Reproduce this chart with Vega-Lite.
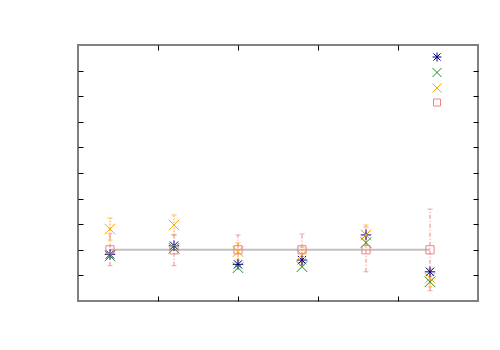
{
  "$schema": "https://vega.github.io/schema/vega-lite/v6.json",
  "width": 400,
  "height": 256,
  "autosize": {"type": "none"},
  "padding": {"left": 78, "top": 45, "right": 22, "bottom": 49},
  "background": "white",
  "config": {
    "view": {"stroke": "#808080", "strokeWidth": 2},
    "axis": {"labels": false, "grid": false, "domain": false, "tickSize": -5, "tickColor": "#000000", "tickWidth": 1, "title": null},
    "legend": {
      "orient": "none", "legendX": 354, "legendY": 7, "padding": 0,
      "labelFontSize": 10, "symbolSize": 81, "rowPadding": 1.5, "symbolStrokeWidth": 1
    }
  },
  "data": {
    "values": [
      {"series": "A", "x": 0.4, "y": 1.82},
      {"series": "B", "x": 0.4, "y": 1.76},
      {"series": "C", "x": 0.4, "y": 2.81, "lo": 2.38, "hi": 3.24},
      {"series": "D", "x": 0.4, "y": 2.0, "lo": 1.38, "hi": 2.62},
      {"series": "A", "x": 1.2, "y": 2.16},
      {"series": "B", "x": 1.2, "y": 2.06},
      {"series": "C", "x": 1.2, "y": 2.97, "lo": 2.58, "hi": 3.36},
      {"series": "D", "x": 1.2, "y": 2.0, "lo": 1.38, "hi": 2.58},
      {"series": "A", "x": 2.0, "y": 1.43},
      {"series": "B", "x": 2.0, "y": 1.3},
      {"series": "C", "x": 2.0, "y": 1.93, "lo": 1.6, "hi": 2.27},
      {"series": "D", "x": 2.0, "y": 2.0, "lo": 1.42, "hi": 2.58},
      {"series": "A", "x": 2.8, "y": 1.6},
      {"series": "B", "x": 2.8, "y": 1.34},
      {"series": "C", "x": 2.8, "y": 1.8, "lo": 1.5, "hi": 2.1},
      {"series": "D", "x": 2.8, "y": 2.0, "lo": 1.38, "hi": 2.62},
      {"series": "A", "x": 3.6, "y": 2.58},
      {"series": "B", "x": 3.6, "y": 2.28},
      {"series": "C", "x": 3.6, "y": 2.58, "lo": 2.19, "hi": 2.97},
      {"series": "D", "x": 3.6, "y": 2.0, "lo": 1.14, "hi": 2.89},
      {"series": "A", "x": 4.4, "y": 1.14},
      {"series": "B", "x": 4.4, "y": 0.75},
      {"series": "C", "x": 4.4, "y": 0.89, "lo": 0.55, "hi": 1.25},
      {"series": "D", "x": 4.4, "y": 2.0, "lo": 0.4, "hi": 3.59}
    ]
  },
  "layer": [
    {
      "transform": [{"filter": "datum.series === 'D'"}],
      "mark": {"type": "line", "color": "#c0c0c0", "strokeWidth": 2},
      "encoding": {
        "x": {"field": "x", "type": "quantitative", "scale": {"domain": [0, 5], "nice": false}, "axis": {"orient": "bottom", "values": [1, 2, 3, 4]}},
        "y": {"field": "y", "type": "quantitative", "scale": {"domain": [0, 10], "nice": false}, "axis": {"orient": "left", "values": [1, 2, 3, 4, 5, 6, 7, 8, 9]}}
      }
    },
    {
      "transform": [{"filter": "datum.series === 'C'"}],
      "mark": {"type": "rule", "color": "#ffa500", "strokeDash": [1.5, 1.5], "strokeWidth": 1},
      "encoding": {
        "x": {"field": "x", "type": "quantitative", "axis": {"orient": "top", "values": [1, 2, 3, 4]}},
        "y": {"field": "lo", "type": "quantitative", "axis": {"orient": "right", "values": [1, 2, 3, 4, 5, 6, 7, 8, 9]}},
        "y2": {"field": "hi"}
      }
    },
    {
      "transform": [{"filter": "datum.series === 'D'"}],
      "mark": {"type": "rule", "color": "#f08080", "strokeDash": [4, 2, 1, 2], "strokeWidth": 1},
      "encoding": {
        "x": {"field": "x", "type": "quantitative", "axis": null},
        "y": {"field": "lo", "type": "quantitative", "axis": null},
        "y2": {"field": "hi"}
      }
    },
    {
      "transform": [{"filter": "datum.series === 'C'"}, {"fold": ["lo", "hi"], "as": ["end", "v"]}],
      "mark": {"type": "tick", "orient": "horizontal", "size": 5, "thickness": 1, "color": "#ffa500"},
      "encoding": {
        "x": {"field": "x", "type": "quantitative", "axis": null},
        "y": {"field": "v", "type": "quantitative", "axis": null}
      }
    },
    {
      "transform": [{"filter": "datum.series === 'D'"}, {"fold": ["lo", "hi"], "as": ["end", "v"]}],
      "mark": {"type": "tick", "orient": "horizontal", "size": 5, "thickness": 1, "color": "#f08080"},
      "encoding": {
        "x": {"field": "x", "type": "quantitative", "axis": null},
        "y": {"field": "v", "type": "quantitative", "axis": null}
      }
    },
    {
      "transform": [{"calculate": "datum.series", "as": "marker"}],
      "mark": {"type": "point", "filled": false, "strokeWidth": 1, "size": 110, "opacity": 1},
      "encoding": {
        "x": {"field": "x", "type": "quantitative", "axis": null},
        "y": {"field": "y", "type": "quantitative", "axis": null},
        "color": {
          "field": "series", "type": "nominal",
          "scale": {"domain": ["A", "B", "C", "D"], "range": ["#00008b", "#228b22", "#ffa500", "#f08080"]},
          "legend": {
            "title": null, "labelExpr": "''",
            "encode": {
              "symbols": {
                "fill": {"value": "transparent"},
                "strokeDash": {"condition": [{"test": "datum.value === 'C'", "value": [1.5, 1.5]}, {"test": "datum.value === 'D'", "value": [4, 2, 1, 2]}], "value": []},
                "shape": {
                  "condition": [
                    {"test": "datum.value === 'C'", "value": "M-4.67,0L4.67,0M-4.67,-0.45L-4.67,0.45M4.67,-0.45L4.67,0.45M-1,-1L1,1M-1,1L1,-1"},
                    {"test": "datum.value === 'D'", "value": "M-4.67,0L-0.78,0M0.78,0L4.67,0M-4.67,-0.45L-4.67,0.45M4.67,-0.45L4.67,0.45M-0.78,-0.78L0.78,-0.78L0.78,0.78L-0.78,0.78Z"},
                    {"test": "datum.value === 'A'", "value": "M-1,0L1,0M0,-1L0,1M-0.8,-0.8L0.8,0.8M-0.8,0.8L0.8,-0.8"}
                  ],
                  "value": "M-1,-1L1,1M-1,1L1,-1"
                }
              }
            }
          }
        },
        "shape": {
          "field": "marker", "type": "nominal",
          "scale": {"domain": ["A", "B", "C", "D"], "range": ["M-1,0L1,0M0,-1L0,1M-0.8,-0.8L0.8,0.8M-0.8,0.8L0.8,-0.8", "M-1,-1L1,1M-1,1L1,-1", "M-1,-1L1,1M-1,1L1,-1", "M-0.78,-0.78L0.78,-0.78L0.78,0.78L-0.78,0.78Z"]},
          "legend": null
        }
      }
    }
  ],
  "resolve": {"axis": {"x": "independent", "y": "independent"}}
}
